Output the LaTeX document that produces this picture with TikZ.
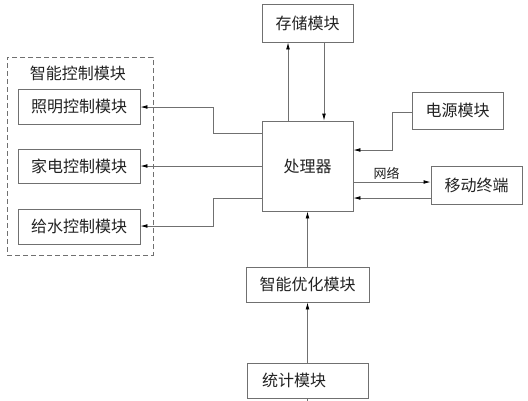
\documentclass[tikz,border=0pt]{standalone}
\usepackage{fontspec}
\setmainfont{Noto Sans CJK SC}
\usetikzlibrary{arrows.meta}
\definecolor{linegray}{HTML}{707070}
\definecolor{txt}{HTML}{222222}
\tikzset{
  box/.style={draw=linegray, line width=0.8pt, text=txt, inner sep=0pt, font=\fontsize{16}{18}\selectfont},
  conn/.style={draw=linegray, line width=0.8pt},
  arr/.style={conn, -{Latex[length=7pt,width=3.8pt,color=black]}},
}
\begin{document}
\begin{tikzpicture}[x=1pt,y=-1pt]
\useasboundingbox (0,0) rectangle (528,400);
\fill[white] (0,0) rectangle (528,400);
% dashed group
\node[draw=linegray, dash pattern=on 5pt off 3pt, line width=0.8pt, minimum width=146pt, minimum height=198pt, inner sep=0pt] (grp) at (80,156) {};
\node[text=txt, font=\fontsize{16}{18}\selectfont] (grptitle) at (78,73) {智能控制模块};
% boxes
\node[box, minimum width=91pt, minimum height=90pt] (proc) at (307.5,166) {处理器};
\node[box, minimum width=91pt, minimum height=38pt] (store) at (307.5,23) {存储模块};
\node[box, minimum width=91pt, minimum height=37pt] (power) at (457.5,110.5) {电源模块};
\node[box, minimum width=91pt, minimum height=38pt] (mobile) at (476.5,185) {移动终端};
\node[box, minimum width=123pt, minimum height=35pt] (opt) at (307.5,284.5) {智能优化模块};
\node[box, minimum width=121pt, minimum height=35pt, text width=91pt, align=left] (stat) at (307.5,380.5) {统计模块};
\node[box, minimum width=122pt, minimum height=35pt] (light) at (79,106.5) {照明控制模块};
\node[box, minimum width=122pt, minimum height=34pt] (appl) at (79,166) {家电控制模块};
\node[box, minimum width=122pt, minimum height=35pt] (water) at (79,226.5) {给水控制模块};
% connectors to control modules
\draw[arr] (proc.west |- 0,133) -- (213,133) -- (213,107) -- (light.east |- 0,107);
\draw[arr] (proc.west) -- (appl.east);
\draw[arr] (proc.west |- 0,198) -- (213,198) -- (213,226) -- (water.east |- 0,226);
% storage
\draw[arr] (proc.north -| 288,0) -- (store.south -| 288,0);
\draw[arr] (store.south -| 324,0) -- (proc.north -| 324,0);
% power
\draw[arr] (power.west |- 0,112) -- (392,112) -- (392,150) -- (proc.east |- 0,150);
% mobile
\draw[arr] (proc.east |- 0,182) -- node[above, text=txt, font=\fontsize{13}{15}\selectfont, inner sep=2pt, pos=0.43] (net) {网络} (mobile.west |- 0,182);
\draw[arr] (mobile.west |- 0,198) -- (proc.east |- 0,198);
% bottom chain
\draw[arr] (opt.north) -- (proc.south);
\draw[arr] (stat.north) -- (opt.south);
\coordinate (below) at (307.5,402);
\draw[conn] (stat.south) -- (below);
\end{tikzpicture}
\end{document}
